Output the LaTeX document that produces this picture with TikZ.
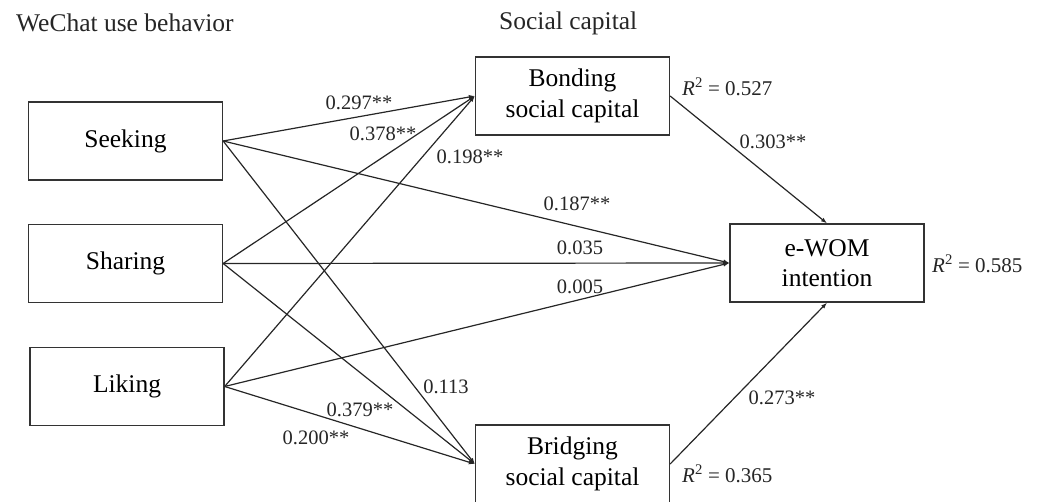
\documentclass[tikz,border=0pt]{standalone}
\usepackage{fontspec}
\setmainfont{Liberation Serif}
\usetikzlibrary{arrows.meta}
\begin{document}
\begin{tikzpicture}[x=1pt,y=-1pt,
  box/.style={draw=black!80, line width=1.3pt, minimum width=194pt, minimum height=78pt, inner sep=0pt, align=center, font=\fontsize{25.5}{30.5}\selectfont},
  head/.style={anchor=west, inner sep=0pt, font=\fontsize{25.5}{28}\selectfont, text=black!85},
  lab/.style={inner sep=0pt, font=\fontsize{20.5}{24}\selectfont, text=black!85},
  rsq/.style={inner sep=0pt, font=\fontsize{21}{24}\selectfont, text=black!85},
  path/.style={draw=black!85, line width=1.2pt, -{Latex[length=6pt,width=4.5pt]}}
]
\useasboundingbox (0,0) rectangle (1039,502);
\node[head] (h1) at (16,23) {WeChat use behavior};
\node[head] (h2) at (499,23) {Social capital};

\node[box] (seek) at (125.5,141) {Seeking};
\node[box] (share) at (125.5,263.5) {Sharing};
\node[box] (like) at (127,386.5) {Liking};
\node[box] (bond) at (572.5,96) {Bonding\\social capital};
\node[box] (bridge) at (572.5,464) {Bridging\\social capital};
\node[box] (ewom) at (827,263) {e-WOM\\intention};

\draw[path] (seek.east) -- (bond.west);
\draw[path] (seek.east) -- (ewom.west);
\draw[path] (seek.east) -- (bridge.west);
\draw[path] (share.east) -- (bond.west);
\draw[path] (share.east) -- (ewom.west);
\draw[path] (share.east) -- (bridge.west);
\draw[path] (like.east) -- (bond.west);
\draw[path] (like.east) -- (ewom.west);
\draw[path] (like.east) -- (bridge.west);
\draw[path] (bond.east) -- (ewom.north);
\draw[path] (bridge.east) -- (ewom.south);

\node[lab] (l1) at (359,103) {0.297**};
\node[lab] (l2) at (383,134) {0.378**};
\node[lab] (l3) at (470,157) {0.198**};
\node[lab] (l4) at (577,204) {0.187**};
\node[lab] (l5) at (580,248) {0.035};
\node[lab] (l6) at (580,287) {0.005};
\node[lab] (l7) at (446,387) {0.113};
\node[lab] (l8) at (360,410) {0.379**};
\node[lab] (l9) at (316,438) {0.200**};
\node[lab] (l10) at (773,142) {0.303**};
\node[lab] (l11) at (782,398) {0.273**};

\node[rsq, anchor=west] (r1) at (682,87) {\textit{R}\textsuperscript{2} = 0.527};
\node[rsq, anchor=west] (r2) at (932,264) {\textit{R}\textsuperscript{2} = 0.585};
\node[rsq, anchor=west] (r3) at (682,474) {\textit{R}\textsuperscript{2} = 0.365};
\end{tikzpicture}
\end{document}
